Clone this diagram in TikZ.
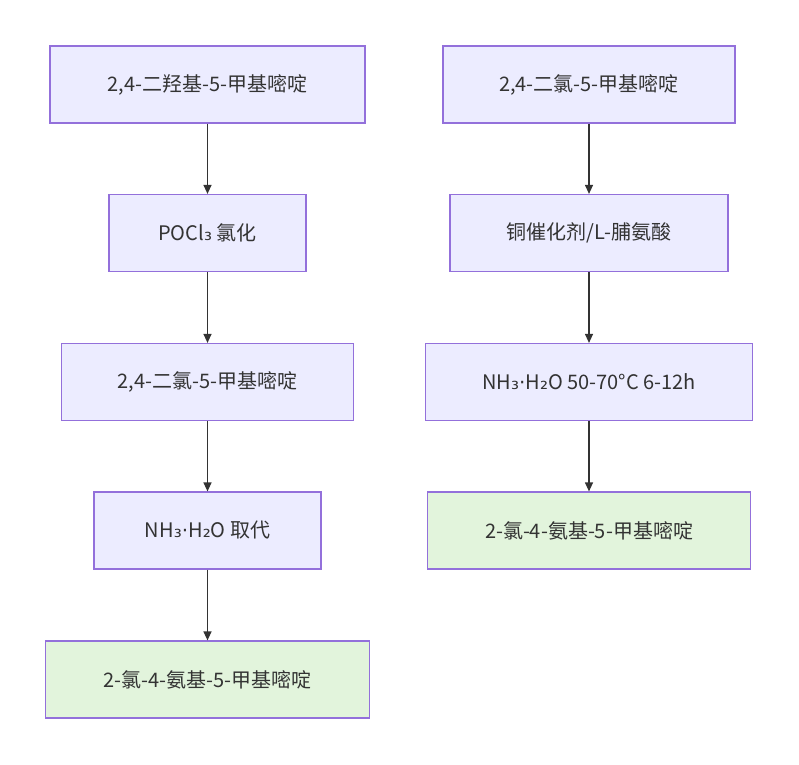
\documentclass[tikz,border=0pt]{standalone}
\usepackage{fontspec}
\setmainfont{Noto Sans CJK SC}
\newfontfamily\dvfont{DejaVu Sans}
\newcommand{\dv}[1]{{\dvfont #1}}
\usetikzlibrary{arrows.meta}
\definecolor{bfill}{HTML}{ECECFF}
\definecolor{bstroke}{HTML}{9370DB}
\definecolor{gfill}{HTML}{E2F4DC}
\definecolor{tcol}{HTML}{333333}
\tikzset{
  box/.style={draw=bstroke,fill=bfill,line width=1.2pt,text=tcol,font=\fontsize{20}{23}\selectfont,inner sep=0pt,minimum height=77pt},
  gbox/.style={box,fill=gfill},
  arr/.style={draw=tcol,line width=1.2pt,-{Triangle[length=9pt,width=8pt]}}
}
\begin{document}
\begin{tikzpicture}[x=1pt,y=-1pt]
\useasboundingbox (0,0) rectangle (799,764);
\node[box,minimum width=315pt] (a1) at (207.5,84.5) {2,4-二羟基-5-甲基嘧啶};
\node[box,minimum width=197pt] (a2) at (207.5,233) {POCl\dv{₃} 氯化};
\node[box,minimum width=292pt] (a3) at (207.5,382) {2,4-二氯-5-甲基嘧啶};
\node[box,minimum width=227pt] (a4) at (207.5,530.5) {NH\dv{₃·}H\dv{₂}O 取代};
\node[gbox,minimum width=324pt] (a5) at (207.5,679.5) {2-氯-4-氨基-5-甲基嘧啶};
\node[box,minimum width=292pt] (b1) at (589,84.5) {2,4-二氯-5-甲基嘧啶};
\node[box,minimum width=278pt] (b2) at (589,233) {铜催化剂/L-脯氨酸};
\node[box,minimum width=327pt] (b3) at (589,382) {NH\dv{₃·}H\dv{₂}O 50-70°C 6-12h};
\node[gbox,minimum width=323pt] (b4) at (589,530.5) {2-氯-4-氨基-5-甲基嘧啶};
\draw[arr] (a1) -- (a2);
\draw[arr] (a2) -- (a3);
\draw[arr] (a3) -- (a4);
\draw[arr] (a4) -- (a5);
\draw[arr] (b1) -- (b2);
\draw[arr] (b2) -- (b3);
\draw[arr] (b3) -- (b4);
\end{tikzpicture}
\end{document}
